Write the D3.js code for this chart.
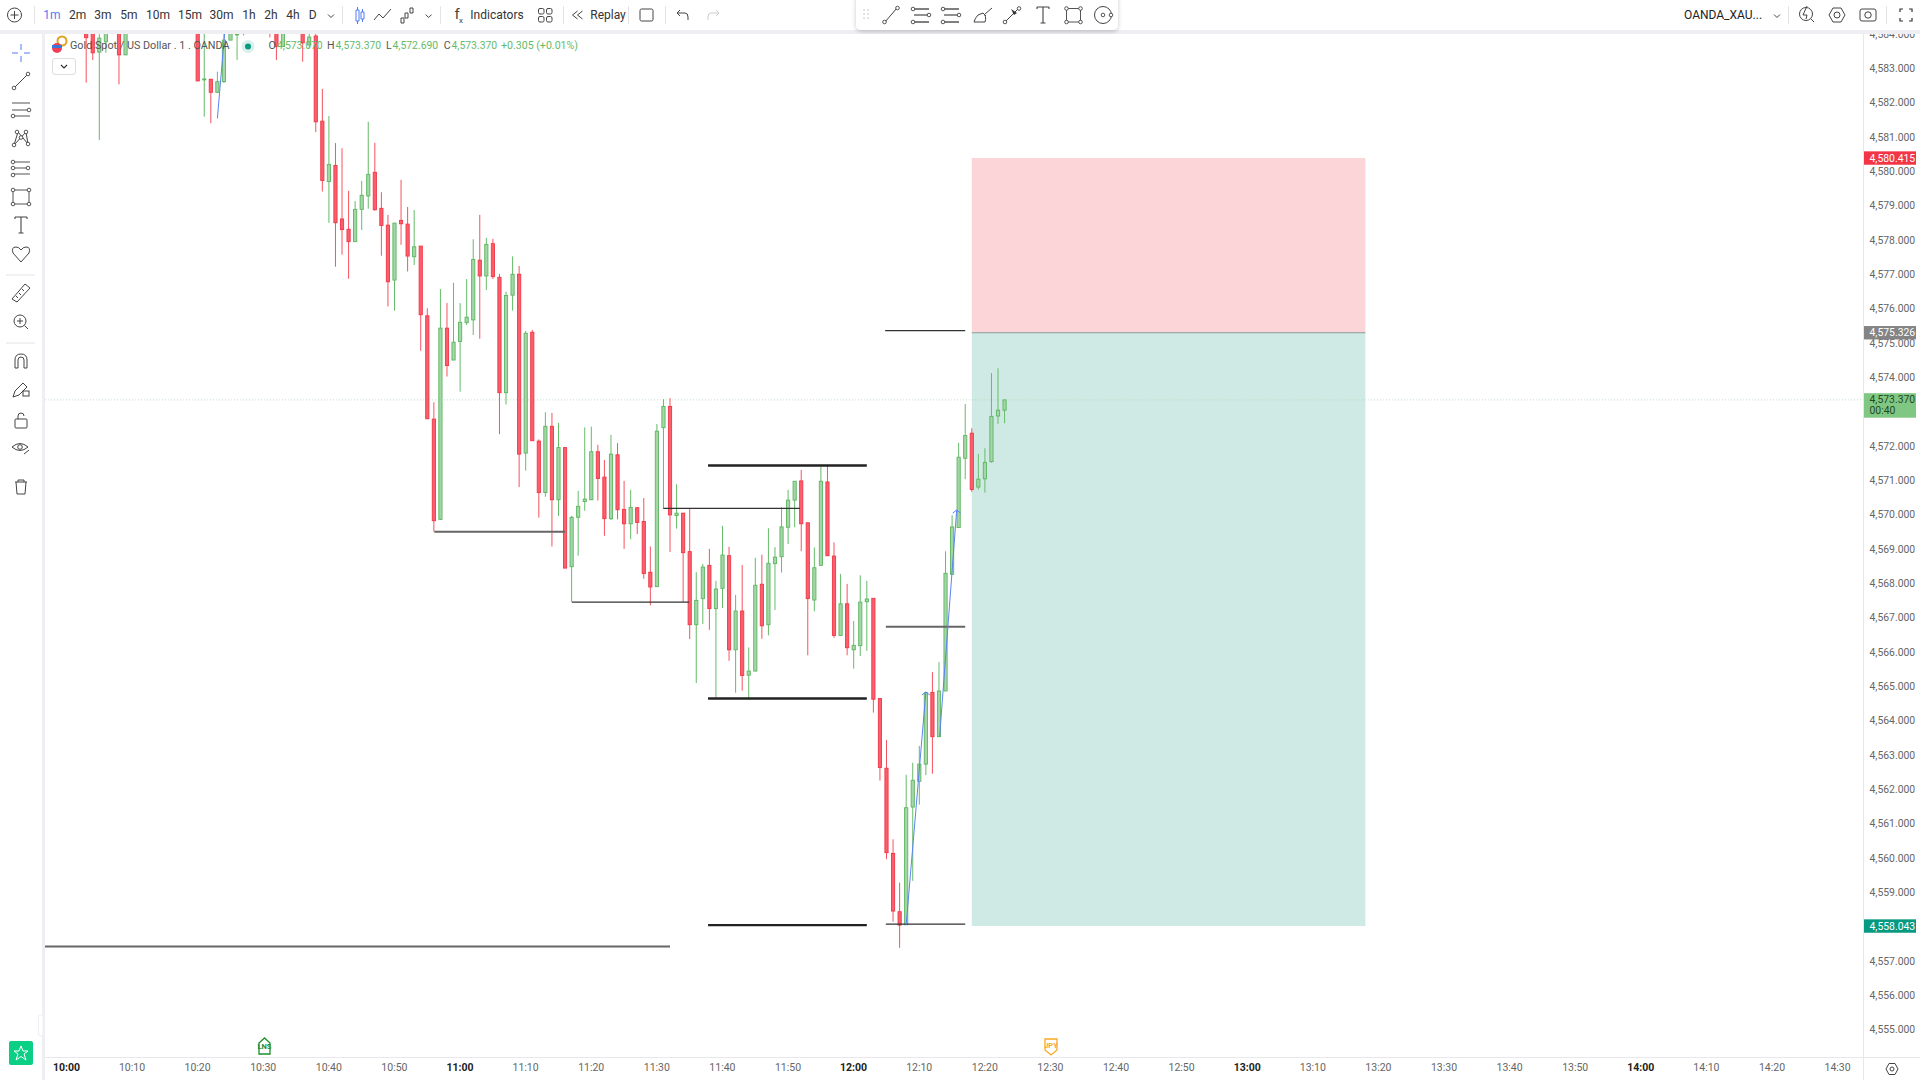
<!DOCTYPE html>
<html>
<head>
<meta charset="utf-8">
<script src="https://cdn.jsdelivr.net/npm/d3@7"></script>
<style>
body { margin: 0; background: #fff; }
text { font-family: Roboto, sans-serif; }
</style>
</head>
<body>
<script>
// minutes after 10:00, only the candles that show below the top edge
const minutes = [3,4,5,6,8,9,20,21,22,23,24,25,26,27,31,32,33,36,37,38,
  39,40,41,42,43,44,45,46,47,48,49,50,51,52,53,54,55,56,57,58,59,60,61,62,63,64,65,66,67,68,
  69,70,71,72,73,74,75,76,77,78,79,80,81,82,83,84,85,86,87,88,89,90,91,92,93,94,95,96,97,98,
  99,100,101,102,103,104,105,106,107,108,109,110,111,112,113,114,115,116,117,118,
  119,120,121,122,123,124,125,126,127,128,129,130,131,132,133,134,135,136,137,138,139,140,141,142,143];
const opens = [4584.50,4584.30,4583.47,4583.77,4584.40,4583.39,4584.60,4582.67,4582.68,4582.30,4582.61,4583.82,4583.98,4584.50,4584.60,4584.30,4583.63,4584.40,4583.68,4583.94,
  4581.46,4579.70,4580.17,4578.61,4578.31,4577.95,4578.89,4579.28,4579.97,4578.92,4578.43,4576.83,4578.57,4578.46,4577.51,4577.82,4575.79,4572.78,4569.86,4575.43,4574.50,4575.04,4575.59,4575.67,4577.41,4576.95,4577.89,4576.91,4573.55,4576.39,
  4577.00,4571.79,4575.31,4572.14,4570.64,4572.57,4570.43,4571.95,4568.48,4569.92,4570.38,4570.43,4571.83,4571.09,4569.88,4571.74,4570.15,4569.73,4570.20,4569.80,4568.32,4567.90,4572.53,4573.15,4569.97,4570.04,4568.92,4566.79,4567.55,4568.52,
  4567.26,4567.85,4568.80,4566.06,4567.19,4565.32,4565.44,4567.97,4566.79,4568.57,4568.77,4569.63,4570.42,4570.98,4569.76,4567.51,4568.52,4570.95,4568.79,4566.48,
  4567.40,4566.06,4566.18,4567.46,4567.56,4564.64,4562.61,4560.13,4558.43,4558.05,4561.48,4562.23,4562.73,4564.82,4563.53,4564.86,4568.26,4569.62,4571.64,4572.37,4570.80,4571.04,4571.54,4572.87,4573.04];
const highs = [4584.80,4584.60,4584.40,4584.50,4584.70,4584.60,4584.80,4584.20,4582.68,4582.90,4584.00,4584.50,4584.30,4584.70,4584.80,4584.60,4584.50,4584.60,4584.03,4584.10,
  4582.40,4581.61,4580.82,4580.67,4579.43,4579.13,4579.72,4581.44,4580.83,4579.39,4578.73,4578.49,4579.75,4578.96,4578.87,4577.82,4576.01,4573.27,4576.57,4576.16,4576.75,4576.16,4576.86,4578.02,4578.73,4578.06,4578.03,4577.01,4576.49,4577.52,
  4577.24,4575.35,4575.38,4572.19,4572.98,4572.96,4572.67,4571.95,4569.96,4570.69,4572.54,4572.56,4572.03,4571.59,4572.32,4572.08,4570.98,4570.72,4570.20,4570.48,4569.07,4572.64,4573.36,4573.39,4570.88,4570.04,4570.16,4568.32,4568.56,4569.00,
  4568.07,4569.67,4569.06,4567.66,4568.53,4566.13,4568.74,4568.83,4569.60,4569.05,4570.21,4570.72,4570.97,4571.30,4569.76,4569.04,4571.40,4571.45,4569.19,4568.27,
  4567.98,4566.90,4568.23,4568.07,4567.56,4564.64,4563.43,4560.54,4559.28,4562.42,4562.77,4563.26,4564.84,4565.41,4565.70,4568.93,4569.98,4572.09,4573.22,4572.51,4571.77,4571.93,4574.12,4574.26,4573.34];
const lows = [4582.58,4583.24,4580.91,4583.45,4582.53,4583.39,4582.63,4581.59,4581.40,4582.28,4582.57,4583.82,4583.24,4583.96,4583.90,4583.24,4583.63,4583.19,4583.59,4581.14,
  4579.41,4578.50,4577.22,4577.57,4576.87,4577.95,4578.29,4578.91,4578.85,4577.54,4576.06,4575.94,4577.86,4577.08,4577.27,4574.77,4572.79,4569.50,4569.84,4574.02,4574.50,4573.58,4575.52,4575.23,4575.12,4576.54,4576.86,4572.34,4573.21,4575.94,
  4570.80,4571.28,4572.15,4569.91,4570.52,4569.07,4569.96,4568.44,4567.45,4568.80,4570.11,4570.43,4570.41,4569.38,4569.84,4569.86,4569.00,4569.28,4569.43,4568.13,4567.35,4567.90,4570.18,4568.91,4569.59,4567.45,4566.37,4565.09,4566.81,4566.64,
  4564.66,4567.28,4565.74,4564.81,4564.87,4564.60,4565.44,4566.38,4566.48,4567.22,4568.31,4569.14,4569.63,4568.93,4565.90,4567.18,4568.52,4568.80,4566.41,4566.48,
  4565.90,4565.51,4565.88,4566.03,4564.23,4562.25,4559.96,4558.14,4557.38,4558.05,4559.33,4561.55,4562.41,4562.45,4563.52,4564.86,4568.26,4569.62,4571.03,4570.66,4570.73,4570.64,4571.51,4572.64,4572.66];
const closes = [4583.89,4583.45,4583.88,4584.20,4583.39,4584.30,4582.63,4582.69,4582.30,4582.61,4583.82,4584.30,4584.00,4584.20,4584.10,4583.63,4584.20,4583.74,4583.91,4581.44,
  4579.73,4580.20,4578.50,4578.30,4577.95,4578.89,4579.30,4579.91,4578.88,4578.42,4576.78,4578.49,4578.47,4577.53,4577.80,4575.82,4572.79,4569.82,4575.43,4574.34,4575.02,4575.60,4575.75,4577.43,4576.95,4577.87,4576.93,4573.55,4576.38,4577.00,
  4571.76,4575.28,4572.15,4570.64,4572.57,4570.43,4571.95,4568.44,4569.92,4570.24,4570.45,4571.83,4571.05,4569.88,4571.76,4570.14,4569.73,4570.21,4569.77,4568.28,4567.89,4572.43,4573.15,4569.99,4570.04,4568.89,4566.79,4567.50,4568.47,4567.26,
  4567.83,4568.82,4566.06,4567.19,4565.31,4565.44,4567.94,4566.76,4568.58,4568.76,4569.64,4570.42,4570.97,4569.73,4567.55,4568.45,4570.97,4568.80,4566.48,4567.40,
  4566.12,4566.19,4567.45,4567.54,4564.62,4562.63,4560.15,4558.45,4558.04,4561.46,4562.26,4562.73,4564.81,4563.53,4564.86,4568.29,4569.64,4571.67,4572.30,4570.73,4571.03,4571.52,4572.86,4573.04,4573.34];

const timeLabels = ["10:00","10:10","10:20","10:30","10:40","10:50","11:00","11:10","11:20","11:30","11:40","11:50",
  "12:00","12:10","12:20","12:30","12:40","12:50","13:00","13:10","13:20","13:30","13:40","13:50","14:00","14:10","14:20","14:30"];
const priceTicks = d3.range(4555, 4585);

// long/short tool
const toolMinutes = [138, 198];
const toolPrices = {stop: 4580.415, entry: 4575.326, target: 4558.043};

// horizontal levels drawn on the chart: [from minute, to minute, price]
const heavyLevels = [[97.8,122,4571.43],[97.8,122,4564.64],[97.8,122,4558.04]];
const greyLevels = [[-4,92,4557.42],[56.07,76,4569.50],[124.9,137,4566.73]];
const thinLevels = [[124.9,137,4558.07],[77.05,94.9,4567.45],[90.97,111.8,4570.18],[124.8,137,4575.36]];

// blue arrows: [minute, price, minute, price]
const arrows = [[128,4558.05,131,4564.83],[133.1,4563.54,135.7,4570.13]];
const arrowOffTop = [23,4581.54,24.5,4584.9];

const lastPrice = 4573.37;
const toolbarFrames = ["1m","2m","3m","5m","10m","15m","30m","1h","2h","4h","D"];
const frameX = [52,77.6,103,129,158,190,221.6,249,271,293,312.6];

// the values above were read against tick label centres, the real levels sit a pixel lower
const readOffset = 0.03;

const w = 1920, h = 1080;
const chartLeft = 45, chartRight = 1863, chartTop = 34, chartBottom = 1057;

const svg = d3.select("body").append("svg").attr("width", w).attr("height", h).style("display", "block");
svg.append("rect").attr("width", w).attr("height", h).attr("fill", "#fff");

const parseTime = d3.timeParse("%H:%M");
const t0 = parseTime("10:00");
const at = m => new Date(+t0 + m * 60000);

const x = d3.scaleTime().domain([t0, parseTime("14:30")]).range([66.5, 1837.7]);
const y = d3.scaleLinear().domain([4583, 4555]).range([69.3, 1030.5]);

svg.append("clipPath").attr("id", "plot").append("rect")
  .attr("x", chartLeft).attr("y", chartTop).attr("width", chartRight - chartLeft).attr("height", chartBottom - chartTop);

const plot = svg.append("g").attr("clip-path", "url(#plot)");

// position tool
plot.append("rect").attr("x", x(at(toolMinutes[0]))).attr("width", x(at(toolMinutes[1])) - x(at(toolMinutes[0])))
  .attr("y", y(toolPrices.stop)).attr("height", y(toolPrices.entry) - y(toolPrices.stop)).attr("fill", "#fbd5d8");
plot.append("rect").attr("x", x(at(toolMinutes[0]))).attr("width", x(at(toolMinutes[1])) - x(at(toolMinutes[0])))
  .attr("y", y(toolPrices.entry)).attr("height", y(toolPrices.target) - y(toolPrices.entry)).attr("fill", "#cfeae4");
plot.append("line").attr("x1", x(at(toolMinutes[0]))).attr("x2", x(at(toolMinutes[1])))
  .attr("y1", y(toolPrices.entry)).attr("y2", y(toolPrices.entry)).attr("stroke", "#8a9a98").attr("stroke-width", 1);

// last price dotted line
plot.append("line").attr("x1", chartLeft).attr("x2", chartRight).attr("y1", y(lastPrice)).attr("y2", y(lastPrice))
  .attr("stroke", "#a5d6a7").attr("stroke-opacity", 0.7).attr("stroke-dasharray", "1 2");

// candles
const candles = minutes.map((m, i) => ({m, o: opens[i] + readOffset, h: highs[i] + readOffset, l: lows[i] + readOffset, c: closes[i] + readOffset}));
const isUp = d => d.c >= d.o;

plot.selectAll("line.wick").data(candles).enter().append("line")
  .attr("class", "wick")
  .attr("x1", d => x(at(d.m))).attr("x2", d => x(at(d.m)))
  .attr("y1", d => y(d.h)).attr("y2", d => y(d.l))
  .attr("stroke", d => isUp(d) ? "#66bb6a" : "#f7525f")
  .attr("stroke-width", 1);

plot.selectAll("rect.body").data(candles).enter().append("rect")
  .attr("class", "body")
  .attr("x", d => x(at(d.m)) - 1.6).attr("width", 3.2)
  .attr("y", d => y(Math.max(d.o, d.c)))
  .attr("height", d => Math.max(1, Math.abs(y(d.o) - y(d.c))))
  .attr("fill", d => isUp(d) ? "#a5d6a7" : "#fb5f6e")
  .attr("stroke", d => isUp(d) ? "#5cb660" : "#f23645")
  .attr("stroke-width", 0.9);

// levels
function drawLevels(rows, color, width) {
  plot.append("g").selectAll("line").data(rows).enter().append("line")
    .attr("x1", d => x(at(d[0]))).attr("x2", d => x(at(d[1])))
    .attr("y1", d => y(d[2] + readOffset)).attr("y2", d => y(d[2] + readOffset))
    .attr("stroke", color).attr("stroke-width", width);
}
drawLevels(heavyLevels, "#222", 2.4);
drawLevels(greyLevels, "#666", 2);
drawLevels(thinLevels, "#333", 1.2);

// blue arrows
arrows.concat([arrowOffTop]).forEach(a => {
  plot.append("line").attr("x1", x(at(a[0]))).attr("y1", y(a[1] + readOffset)).attr("x2", x(at(a[2]))).attr("y2", y(a[3] + readOffset))
    .attr("stroke", "#5b83f5").attr("stroke-width", 1);
});
arrows.forEach(a => {
  const px = x(at(a[2])), py = y(a[3] + readOffset);
  plot.append("path").attr("d", `M${px - 4},${py + 3} L${px},${py} L${px + 4},${py + 3}`)
    .attr("fill", "none").attr("stroke", "#5b83f5").attr("stroke-width", 1);
});

// axes
const xAxis = svg.append("g").attr("transform", `translate(0,${chartBottom})`)
  .call(d3.axisBottom(x).tickValues(timeLabels.map(parseTime)).tickFormat(d3.timeFormat("%H:%M")).tickSize(0).tickPadding(6.5));
xAxis.select(".domain").remove();
xAxis.selectAll("text").attr("font-size", 10.5).attr("font-family", "Roboto").attr("dx", -0.6)
  .attr("fill", d => d.getMinutes() === 0 ? "#222" : "#666")
  .attr("font-weight", d => d.getMinutes() === 0 ? 700 : 400);
svg.append("line").attr("x1", chartLeft).attr("x2", w).attr("y1", chartBottom + 0.5).attr("y2", chartBottom + 0.5).attr("stroke", "#e8e8ec");

const yAxis = svg.append("g").attr("clip-path", "url(#axisClip)").attr("transform", `translate(${chartRight},0)`)
  .call(d3.axisRight(y).tickValues(priceTicks).tickFormat(d3.format(",.3f")).tickSize(0).tickPadding(6.5));
yAxis.select(".domain").remove();
yAxis.selectAll("text").attr("font-size", 10.4).attr("font-family", "Roboto").attr("fill", "#666").attr("dy", "0.22em");
svg.append("clipPath").attr("id", "axisClip").append("rect").attr("x", 0).attr("y", chartTop).attr("width", 60).attr("height", chartBottom - chartTop);
svg.append("line").attr("x1", chartRight + 0.5).attr("x2", chartRight + 0.5).attr("y1", chartTop).attr("y2", h).attr("stroke", "#e8e8ec");

// price labels
function priceLabel(p, color, textColor, extra) {
  const ht = extra ? 24.5 : 13.4;
  const top = y(p) - 6.7;
  svg.append("rect").attr("x", 1864).attr("y", top).attr("width", 52).attr("height", ht).attr("fill", color);
  svg.append("text").attr("x", 1869.5).attr("y", y(p) + 3.5).attr("font-size", 10.4).attr("fill", textColor).text(d3.format(",.3f")(p));
  if (extra) svg.append("text").attr("x", 1869.5).attr("y", y(p) + 14.5).attr("font-size", 10.4).attr("fill", textColor).text(extra);
}
priceLabel(toolPrices.stop, "#f23645", "#fff");
priceLabel(toolPrices.entry, "#848484", "#fff");
priceLabel(lastPrice, "#81c784", "#1d4b22", "00:40");
priceLabel(toolPrices.target, "#089981", "#fff");

// frames around the chart
svg.append("rect").attr("x", 0).attr("y", 0).attr("width", w).attr("height", 30).attr("fill", "#fff");
svg.append("rect").attr("x", 0).attr("y", 30).attr("width", w).attr("height", 4).attr("fill", "#eeeef3");
svg.append("rect").attr("x", 0).attr("y", 34).attr("width", 42).attr("height", h - 34).attr("fill", "#fff");
svg.append("rect").attr("x", 42).attr("y", 34).attr("width", 3).attr("height", h - 34).attr("fill", "#eeeef3");
svg.append("rect").attr("x", 38.5).attr("y", 1015).attr("width", 4.5).attr("height", 21).attr("rx", 2).attr("fill", "#fff").attr("stroke", "#eeeef3");

// ---- top bar
const bar = svg.append("g");
function label(g, tx, ty, s, size, color, anchor, weight) {
  return g.append("text").attr("x", tx).attr("y", ty).attr("font-size", size).attr("fill", color)
    .attr("text-anchor", anchor || "middle").attr("font-weight", weight || 400).text(s);
}
function icon(g, cx, cy, d, color, width) {
  return g.append("path").attr("transform", `translate(${cx},${cy})`).attr("d", d)
    .attr("fill", "none").attr("stroke", color || "#444").attr("stroke-width", width || 1);
}
function dot(g, cx, cy, r) {
  g.append("circle").attr("cx", cx).attr("cy", cy).attr("r", r || 1.8).attr("fill", "#fff").attr("stroke", "#444").attr("stroke-width", 0.9);
}
function sep(g, sx, y1, y2) {
  g.append("line").attr("x1", sx).attr("x2", sx).attr("y1", y1).attr("y2", y2).attr("stroke", "#e4e4e8");
}
const chevron = "M-3,-1.5 L0,1.5 L3,-1.5";
const letterT = "M-6,-8 H6 M-6,-8 V-6 M6,-8 V-6 M0,-8 V8 M-2.5,8 H2.5";

bar.append("circle").attr("cx", 14.5).attr("cy", 15).attr("r", 7).attr("fill", "none").attr("stroke", "#444");
icon(bar, 14.5, 15, "M-4,0 H4 M0,-4 V4");
sep(bar, 34.5, 6, 24);
toolbarFrames.forEach((s, i) => label(bar, frameX[i], 19, s, 12, i === 0 ? "#4f7cf3" : "#333"));
icon(bar, 331, 16, chevron);
sep(bar, 342.5, 6, 24);
icon(bar, 359, 15, "M-3,-5 H0 V6 H-3 Z M-1.5,-8 V-5 M-1.5,6 V9 M2,-3 H5 V4 H2 Z M3.5,-6 V-3 M3.5,4 V7", "#4f7cf3");
icon(bar, 383, 15, "M-9,5 L-4,-1 L0,3 L8,-6");
icon(bar, 408, 15, "M-7,3 h3 v5 h-3 Z M-3,-2 h3 v5 h-3 Z M2,-7 h3 v5 h-3 Z");
icon(bar, 428.6, 16, chevron);
sep(bar, 440.5, 6, 24);
label(bar, 457, 19, "f", 15, "#444", "middle");
label(bar, 461, 23, "x", 8, "#444", "middle");
label(bar, 497, 19, "Indicators", 12, "#333");
[[-4,-4],[4,-4],[-4,4],[4,4]].forEach(p => bar.append("rect").attr("x", 545 + p[0] - 2.5).attr("y", 15 + p[1] - 2.5).attr("width", 5.5).attr("height", 5.5).attr("rx", 1.5).attr("fill", "none").attr("stroke", "#444"));
sep(bar, 563.5, 6, 24);
icon(bar, 577.5, 15, "M0,-4 L-5,0 L0,4 M5,-4 L0,0 L5,4");
label(bar, 608, 19, "Replay", 12, "#333");
sep(bar, 628.5, 6, 24);
bar.append("rect").attr("x", 640).attr("y", 9).attr("width", 13).attr("height", 12).attr("rx", 1.5).attr("fill", "none").attr("stroke", "#444");
sep(bar, 665.5, 6, 24);
icon(bar, 683, 15, "M-3,-5 L-6,-2 L-3,1 M-6,-2 H2 Q5,-2 5,2 V5");
icon(bar, 713, 15, "M3,-5 L6,-2 L3,1 M6,-2 H-2 Q-5,-2 -5,2 V5", "#ccc");

// floating drawing bar
svg.append("filter").attr("id", "soft").append("feDropShadow").attr("dx", 0).attr("dy", 1.5).attr("stdDeviation", 2).attr("flood-color", "#000").attr("flood-opacity", 0.22);
bar.append("rect").attr("x", 856).attr("y", -6).attr("width", 262).attr("height", 36).attr("rx", 5).attr("fill", "#fff").attr("filter", "url(#soft)");
[[-2,-5],[2,-5],[-2,-1],[2,-1],[-2,3],[2,3]].forEach(p => bar.append("rect").attr("x", 866 + p[0] - 0.7).attr("y", 15 + p[1] - 0.7).attr("width", 1.5).attr("height", 1.5).attr("fill", "#ccc"));
icon(bar, 891, 15, "M-6,7 L6,-7"); dot(bar, 884.5, 22); dot(bar, 897.5, 8);
function linesIcon(g, cx, cy, midRight) {
  icon(g, cx, cy, "M-7,-6 H8 M-7,7 H8", "#555", 1.5);
  icon(g, cx, cy, "M-7,0 H7", "#555", 1.3);
  dot(g, cx - 8, cy - 6); dot(g, cx - 8, cy + 7);
  dot(g, midRight ? cx + 8 : cx + 7, cy);
}
linesIcon(bar, 921, 15, true);
linesIcon(bar, 951, 15, true);
icon(bar, 983, 15, "M-9,7 H2 Q4,1 0,-2 L-5,0 Q-8,3 -9,7 M0,-2 L3,1 M2,-1 L9,-7");
icon(bar, 1012, 15, "M-7,7 L6,-6"); dot(bar, 1005, 22); dot(bar, 1019, 8.5);
bar.append("path").attr("d", "M1011,9 L1017,13 L1014,15 Z").attr("fill", "#333");
icon(bar, 1043, 15, letterT, "#444", 1.1);
bar.append("rect").attr("x", 1066.5).attr("y", 8.5).attr("width", 14).attr("height", 13.5).attr("fill", "none").attr("stroke", "#555");
[[1066.5,8.5],[1080.5,8.5],[1066.5,22],[1080.5,22]].forEach(p => dot(bar, p[0], p[1]));
bar.append("circle").attr("cx", 1103).attr("cy", 15).attr("r", 8.5).attr("fill", "none").attr("stroke", "#444");
dot(bar, 1103, 15); dot(bar, 1111, 15);

// right side of the bar
label(bar, 1684, 19, "OANDA_XAU...", 12, "#222", "start");
icon(bar, 1777, 16, chevron);
sep(bar, 1788.5, 6, 24);
bar.append("circle").attr("cx", 1806).attr("cy", 14).attr("r", 6.5).attr("fill", "none").attr("stroke", "#444");
icon(bar, 1806, 14, "M1,-8 L-3,1 H1 L0,5 M5,5 L8,8");
icon(bar, 1837, 15, "M-8,0 L-4,-7 H4 L8,0 L4,7 H-4 Z");
bar.append("circle").attr("cx", 1837).attr("cy", 15).attr("r", 3).attr("fill", "none").attr("stroke", "#444");
bar.append("rect").attr("x", 1860).attr("y", 9).attr("width", 16).attr("height", 12).attr("rx", 2).attr("fill", "none").attr("stroke", "#444");
bar.append("circle").attr("cx", 1868).attr("cy", 15).attr("r", 3.2).attr("fill", "none").attr("stroke", "#444");
sep(bar, 1886.5, 6, 24);
icon(bar, 1906, 15, "M-6,-3 V-6 H-3 M3,-6 H6 V-3 M6,3 V6 H3 M-3,6 H-6 V3", "#333", 1.2);

// ---- left tool bar
const side = svg.append("g");
icon(side, 21, 53, "M0,-9 V-3 M0,3 V9 M-9,0 H-3 M3,0 H9", "#4f7cf3");
icon(side, 21, 81, "M-7,7 L7,-7"); dot(side, 14, 88); dot(side, 28, 74);
icon(side, 21, 110, "M-9,-7 H9 M-9,0 H8 M-7,6 H9", "#555", 1.2); dot(side, 29, 110); dot(side, 13, 116);
icon(side, 21, 138, "M-7,7 L-3,-6 L7,6 M-7,7 L5,-6 L7,6"); dot(side, 14, 145); dot(side, 28, 144); dot(side, 17, 132); dot(side, 26, 132); dot(side, 21, 137.5);
icon(side, 21, 168, "M-7,-6 H9 M-7,0 H7 M-7,6 H9", "#555", 1.2); dot(side, 13, 162); dot(side, 13, 168); dot(side, 28, 168); dot(side, 13, 175);
side.append("rect").attr("x", 13).attr("y", 190).attr("width", 16).attr("height", 14).attr("fill", "none").attr("stroke", "#555");
[[13,190],[29,190],[13,204],[29,204]].forEach(p => dot(side, p[0], p[1]));
icon(side, 21, 225, letterT, "#444", 1.1);
icon(side, 21, 254, "M0,8 L-8,-1 Q-10,-7 -5,-7 Q-2,-7 0,-4 Q2,-7 5,-7 Q10,-7 8,-1 Z");
side.append("line").attr("x1", 6).attr("x2", 35).attr("y1", 275).attr("y2", 275).attr("stroke", "#e4e4e8");
icon(side, 21, 293, "M-9,6 L4,-9 L9,-5 L-4,9 Z M-5,3 L-3,5 M-2,0 L0,2 M1,-4 L3,-2");
side.append("circle").attr("cx", 20).attr("cy", 321).attr("r", 6).attr("fill", "none").attr("stroke", "#444");
icon(side, 20, 321, "M-3,0 H3 M0,-3 V3 M4.5,4.5 L8,8");
side.append("line").attr("x1", 6).attr("x2", 35).attr("y1", 343).attr("y2", 343).attr("stroke", "#e4e4e8");
icon(side, 21, 361, "M-6,7 V-1 Q-6,-7 0,-7 Q6,-7 6,-1 V7 H3 V-1 Q3,-4 0,-4 Q-3,-4 -3,-1 V7 Z");
icon(side, 20, 390, "M-7,7 L-5,1 L3,-7 L7,-3 L-1,5 Z");
side.append("rect").attr("x", 23).attr("y", 391).attr("width", 6).attr("height", 5).attr("fill", "none").attr("stroke", "#444");
side.append("rect").attr("x", 15).attr("y", 419).attr("width", 12).attr("height", 9).attr("rx", 1).attr("fill", "none").attr("stroke", "#444");
icon(side, 21, 419, "M-3,0 V-3 Q-3,-6 0,-6 Q3,-6 3,-3");
icon(side, 20, 447, "M-8,0 Q0,-7 8,0 Q0,7 -8,0 M4,7 L9,3");
side.append("circle").attr("cx", 20).attr("cy", 447).attr("r", 2.3).attr("fill", "none").attr("stroke", "#444");
icon(side, 21, 487, "M-6,-5 H6 M-3,-5 V-7 H3 V-5 M-5,-5 L-4,7 H4 L5,-5");
side.append("rect").attr("x", 9).attr("y", 1041).attr("width", 24).attr("height", 24).attr("rx", 2).attr("fill", "#0ccf86");
icon(side, 21, 1053, "M0,-7 L2,-2 L7,-2 L3,1 L5,7 L0,3.5 L-5,7 L-3,1 L-7,-2 L-2,-2 Z", "#fff");

// ---- legend
const legend = svg.append("g");
legend.append("circle").attr("cx", 62).attr("cy", 41).attr("r", 4.5).attr("fill", "none").attr("stroke", "#e0a020").attr("stroke-width", 2);
legend.append("circle").attr("cx", 57).attr("cy", 48).attr("r", 5).attr("fill", "#ef4056");
legend.append("rect").attr("x", 52).attr("y", 45).attr("width", 10).attr("height", 3).attr("fill", "#3b78d8");
label(legend, 70, 49, "Gold Spot / US Dollar . 1 . OANDA", 10.8, "#555", "start");
legend.append("circle").attr("cx", 248).attr("cy", 46.5).attr("r", 6.5).attr("fill", "#d8f0ea");
legend.append("circle").attr("cx", 248).attr("cy", 46.5).attr("r", 3).attr("fill", "#089981");
label(legend, 268.5, 49, "O", 10.6, "#555", "start");
label(legend, 277, 49, "4,573.070", 10.4, "#66bb6a", "start");
label(legend, 327, 49, "H", 10.6, "#555", "start");
label(legend, 335.5, 49, "4,573.370", 10.4, "#66bb6a", "start");
label(legend, 386, 49, "L", 10.6, "#555", "start");
label(legend, 392.5, 49, "4,572.690", 10.4, "#66bb6a", "start");
label(legend, 443.7, 49, "C", 10.6, "#555", "start");
label(legend, 451.5, 49, "4,573.370", 10.4, "#66bb6a", "start");
label(legend, 501, 49, "+0.305 (+0.01%)", 10.6, "#66bb6a", "start");
legend.append("rect").attr("x", 52.5).attr("y", 58.5).attr("width", 23).attr("height", 16).attr("rx", 2.5).attr("fill", "#fff").attr("stroke", "#ddd");
icon(legend, 64, 66.5, chevron, "#333", 1.2);

// event markers under the candles
const events = svg.append("g");
icon(events, 264.5, 1046, "M-5.5,8 V-3 L0,-8 L5.5,-3 V8 Z", "#1e8e2e", 1.3);
label(events, 264.5, 1049, "LNS", 7.5, "#1e8e2e", "middle", 700);
icon(events, 1051, 1047, "M-6,-8 H6 V3 L0,8 L-6,3 Z", "#f9a825", 1.3);
label(events, 1051, 1048, "JPY", 7.5, "#f9a825", "middle", 700);

// settings at bottom right
icon(svg, 1892, 1069, "M-6,0 L-3,-5.5 H3 L6,0 L3,5.5 H-3 Z");
svg.append("circle").attr("cx", 1892).attr("cy", 1069).attr("r", 2).attr("fill", "none").attr("stroke", "#444");
</script>
</body>
</html>
